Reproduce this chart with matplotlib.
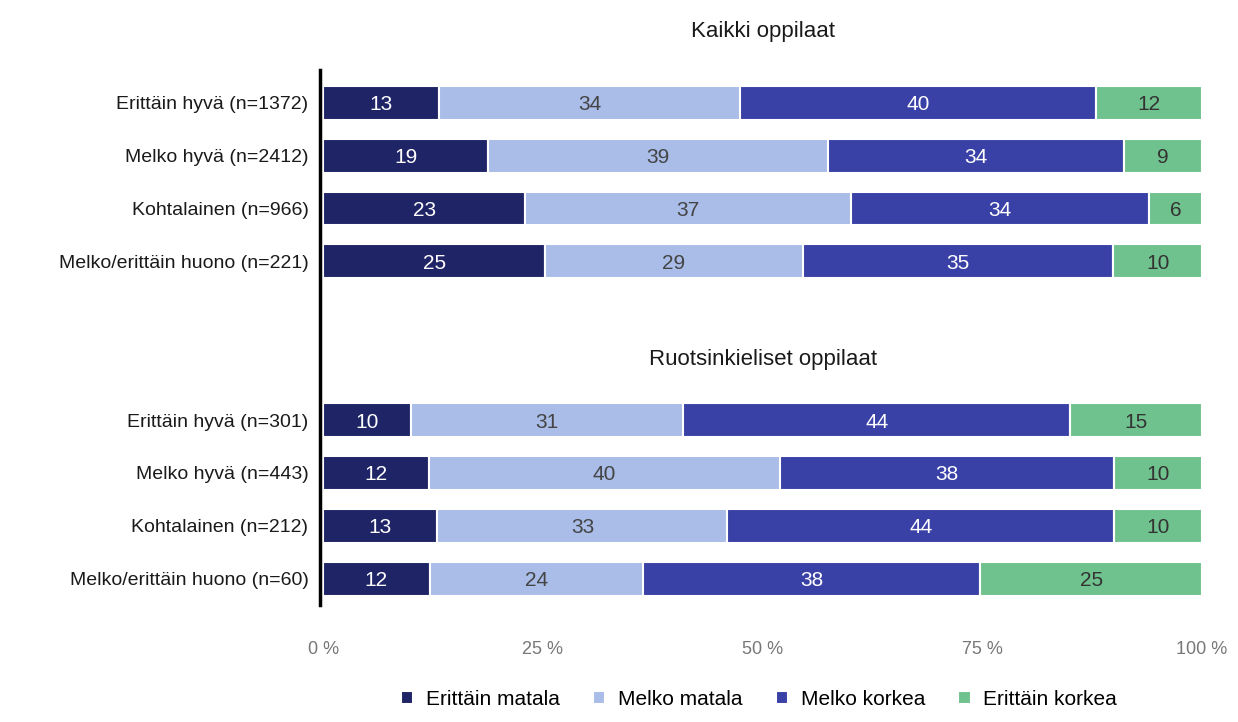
import matplotlib
matplotlib.use("Agg")
import matplotlib.pyplot as plt
import numpy as np

plt.rcParams["font.family"] = ["Liberation Sans", "DejaVu Sans"]

row_labels = [
    "Erittäin hyvä (n=1372)",
    "Melko hyvä (n=2412)",
    "Kohtalainen (n=966)",
    "Melko/erittäin huono (n=221)",
    "Erittäin hyvä (n=301)",
    "Melko hyvä (n=443)",
    "Kohtalainen (n=212)",
    "Melko/erittäin huono (n=60)",
]
series_names = ["Erittäin matala", "Melko matala", "Melko korkea", "Erittäin korkea"]
erittain_matala = [13, 19, 23, 25, 10, 12, 13, 12]
melko_matala = [34, 39, 37, 29, 31, 40, 33, 24]
melko_korkea = [40, 34, 34, 35, 44, 38, 44, 38]
erittain_korkea = [12, 9, 6, 10, 15, 10, 10, 25]
group_titles = ["Kaikki oppilaat", "Ruotsinkieliset oppilaat"]
x_ticks = [0, 25, 50, 75, 100]

colors = ["#1f2466", "#a9bde8", "#3a41a6", "#6fc28e"]
text_colors = ["white", "#444444", "white", "#333333"]

positions = [0, 1, 2, 3, 6, 7, 8, 9]

fig = plt.figure(figsize=(12.38, 7.22), dpi=100)
ax = fig.add_axes([0.261, 0.162, 0.71, 0.741])

# the left spine sits just left of the bars; set it before the ticks (it resets them)
for s in ["top", "right", "bottom"]:
    ax.spines[s].set_visible(False)
ax.spines["left"].set_position(("data", -0.4))
ax.spines["left"].set_linewidth(2.5)
ax.spines["left"].set_color("black")

series = np.array([erittain_matala, melko_matala, melko_korkea, erittain_korkea], dtype=float)
# rounded labels do not always sum to 100, the bars are shown as shares of 100 %
shares = series / series.sum(axis=0) * 100

left = np.zeros(len(positions))
for vals, widths, col, tcol, name in zip(series, shares, colors, text_colors, series_names):
    ax.barh(positions, widths, left=left, height=0.64, color=col, edgecolor="white",
            linewidth=1.5, label=name)
    for p, l, v, w in zip(positions, left, vals, widths):
        ax.text(l + w / 2, p, f"{int(v)}", ha="center", va="center_baseline",
                color=tcol, fontsize=15)
    left += widths

ax.set_xlim(0, 100)
ax.set_ylim(9.5, -0.62)
ax.set_yticks(positions)
ax.set_yticklabels(row_labels, fontsize=14, color="#1a1a1a")
ax.set_xticks(x_ticks)
ax.set_xticklabels([f"{t} %" for t in x_ticks], fontsize=13, color="#777777")
ax.tick_params(axis="both", length=0)
ax.tick_params(axis="x", pad=26)
ax.tick_params(axis="y", pad=8)

ax.text(50, -1.35, group_titles[0], ha="center", va="center", fontsize=16, color="#1a1a1a")
ax.text(50, 4.85, group_titles[1], ha="center", va="center", fontsize=16, color="#1a1a1a")

fig.legend(loc="lower center", bbox_to_anchor=(0.613, -0.008), ncol=4, frameon=False,
           fontsize=15, handlelength=0.6, handleheight=0.6, columnspacing=1.6, handletextpad=0.6)

fig.savefig("out.png", dpi=100)
